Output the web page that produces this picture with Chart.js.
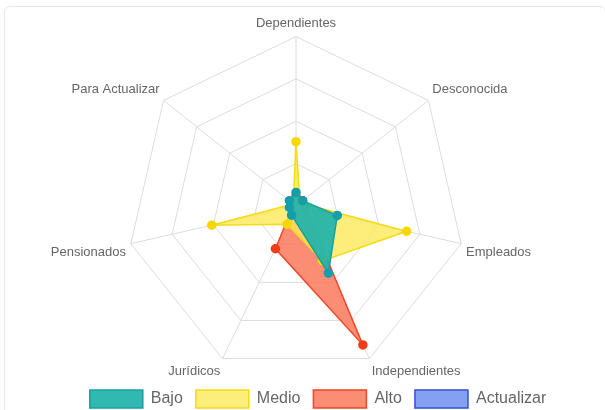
<!DOCTYPE html>
<html>
<head>
<meta charset="utf-8">
<script src="https://cdn.jsdelivr.net/npm/chart.js@4.4.0/dist/chart.umd.min.js"></script>
<style>
  html, body { margin: 0; padding: 0; background: #fff; overflow: hidden; }
  .card { position: absolute; left: 4px; top: 6px; width: 600px; height: 420px; border: 1px solid #e8e8e8; border-radius: 6px; }
  .chart-box { position: absolute; left: 4px; top: 6px; width: 584px; height: 412px; }
</style>
</head>
<body>
<div class="card"></div>
<div class="chart-box"><canvas id="radarChart"></canvas></div>
<script>
// Categories and series (scale 0-100)
const categories = ['Dependientes', 'Desconocida', 'Empleados', 'Independientes', 'Jurídicos', 'Pensionados', 'Para Actualizar'];
const bajo = [8, 5, 25, 44, 6, 4, 5];
const medio = [38, 3, 67, 36, 12, 51, 2];
const alto = [6, 5, 6, 91, 28, 2, 3];
const actualizar = [1, 0, 1, 1, 0, 1, 0];

// Scale
const scaleMax = 100;
const scaleStep = 25;

// The legend sits a little right of centre and tighter to the radar than chart.js puts it
const legendNudge = {
    id: 'legendNudge',
    afterLayout(chart) {
        chart.legend.left += 22;
        chart.legend.right += 22;
        chart.legend.top -= 10;
        chart.legend.bottom -= 10;
    }
};

const ctx = document.getElementById('radarChart').getContext('2d');
let radarChart = new Chart(ctx, {
    type: 'radar',
    data: {
        labels: categories,
        datasets: [
            {
                label: 'Bajo',
                data: bajo,
                backgroundColor: 'rgba(32, 178, 170, 0.92)',
                borderColor: 'rgb(24, 160, 160)',
                pointBackgroundColor: 'rgb(20, 158, 170)',
                pointBorderColor: 'rgb(20, 158, 170)',
                borderWidth: 1.5
            },
            {
                label: 'Medio',
                data: medio,
                backgroundColor: 'rgba(253, 232, 90, 0.8)',
                borderColor: 'rgb(246, 218, 20)',
                pointBackgroundColor: 'rgb(247, 215, 0)',
                pointBorderColor: 'rgb(247, 215, 0)',
                borderWidth: 1.5
            },
            {
                label: 'Alto',
                data: alto,
                backgroundColor: 'rgba(252, 125, 98, 0.88)',
                borderColor: 'rgb(240, 70, 40)',
                pointBackgroundColor: 'rgb(240, 60, 25)',
                pointBorderColor: 'rgb(240, 60, 25)',
                borderWidth: 1.5
            },
            {
                label: 'Actualizar',
                data: actualizar,
                backgroundColor: 'rgba(120, 150, 240, 0.9)',
                borderColor: 'rgb(50, 80, 210)',
                pointBackgroundColor: 'rgb(50, 80, 210)',
                pointBorderColor: 'rgb(50, 80, 210)',
                borderWidth: 1.5
            }
        ]
    },
    options: {
        responsive: true,
        maintainAspectRatio: false,
        animation: false,
        layout: { padding: { bottom: -10 } },
        elements: {
            point: { radius: 4, borderWidth: 1 },
            line: { tension: 0 }
        },
        scales: {
            r: {
                min: 0,
                max: scaleMax,
                ticks: { display: false, stepSize: scaleStep },
                grid: { color: '#dcdcdc', lineWidth: 1 },
                angleLines: { color: '#dcdcdc', lineWidth: 1 },
                pointLabels: {
                    color: '#666',
                    padding: 5,
                    font: { family: '"Liberation Sans", Arial, sans-serif', size: 13 }
                }
            }
        },
        plugins: {
            legend: {
                position: 'bottom',
                labels: {
                    boxWidth: 53,
                    boxHeight: 18,
                    padding: 13,
                    color: '#666',
                    font: { family: '"Liberation Sans", Arial, sans-serif', size: 16 }
                }
            },
            tooltip: { enabled: false }
        }
    },
    plugins: [legendNudge]
});
</script>
</body>
</html>
